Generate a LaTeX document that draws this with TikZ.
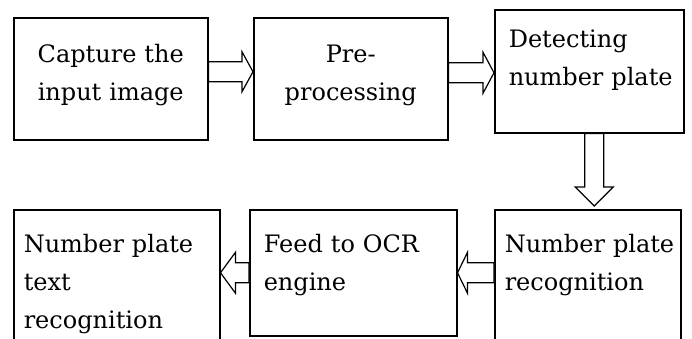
\documentclass[tikz,border=0pt]{standalone}
\usepackage{fontspec}
\setmainfont{DejaVu Serif}
\usetikzlibrary{calc}

% hollow block arrow: from, to, shaft half width, head half width, head length
\newcommand{\hollowarrow}[5]{%
  \coordinate (ha-c) at ($(#2)!#5!(#1)$);
  \filldraw[blockarrow] ($(#1)!#3!90:(#2)$) -- ($(ha-c)!#3!-90:(#1)$) -- ($(ha-c)!#4!-90:(#1)$)
    -- (#2) -- ($(ha-c)!#4!90:(#1)$) -- ($(ha-c)!#3!90:(#1)$) -- ($(#1)!#3!-90:(#2)$) -- cycle;
}

\begin{document}
\begin{tikzpicture}[
    x=1pt, y=-1pt,
    font=\fontsize{24}{38}\selectfont,
    box/.style={draw, line width=1.5pt, anchor=north west, inner ysep=0pt},
    centred/.style={align=center, inner xsep=0pt},
    lefty/.style={align=left, inner xsep=#1},
    blockarrow/.style={draw, fill=white, line width=1.2pt, line join=miter}
]
\useasboundingbox (0,0) rectangle (692,338);
\clip (0,0) rectangle (692,338);

% Top row
\node[box, centred, text width=194pt, text height=45pt, text depth=77pt] (cap) at (13,17) {Capture the\\input image};
\node[box, centred, text width=194pt, text height=45pt, text depth=77pt] (pre) at (253,17) {Pre-\\processing};
\node[box, lefty=14pt, text width=161pt, text height=38pt, text depth=85pt] (det) at (494,9) {Detecting\\\mbox{number plate}};

% Bottom row
\node[box, lefty=10pt, text width=166pt, text height=43pt, text depth=93pt] (rec) at (494,209) {\mbox{Number plate}\\recognition};
\node[box, lefty=14pt, text width=179pt, text height=43pt, text depth=83pt] (ocr) at (249,209) {Feed to OCR\\engine};
\node[box, lefty=10pt, text width=186pt, text height=43pt, text depth=93pt] (txt) at (13,209) {Number plate\\text\\recognition};

% Arrows
\coordinate (a1) at ($(cap.east)+(0,-7)$);
\coordinate (b1) at (a1 -| pre.west);
\hollowarrow{a1}{b1}{10pt}{20pt}{11pt}

\coordinate (a2) at ($(pre.east)+(0,-6)$);
\coordinate (b2) at (a2 -| det.west);
\hollowarrow{a2}{b2}{10pt}{20.5pt}{11pt}

\coordinate (a3) at ($(det.south)+(5,0)$);
\coordinate (b3) at ($(a3 |- rec.north)+(0,-3)$);
\hollowarrow{a3}{b3}{9.5pt}{19pt}{19pt}

\coordinate (a4) at (rec.west |- ocr.east);
\hollowarrow{a4}{ocr.east}{10pt}{20.5pt}{10pt}

\coordinate (b5) at (ocr.west -| txt.east);
\hollowarrow{ocr.west}{b5}{10pt}{20.5pt}{15pt}

\end{tikzpicture}
\end{document}
